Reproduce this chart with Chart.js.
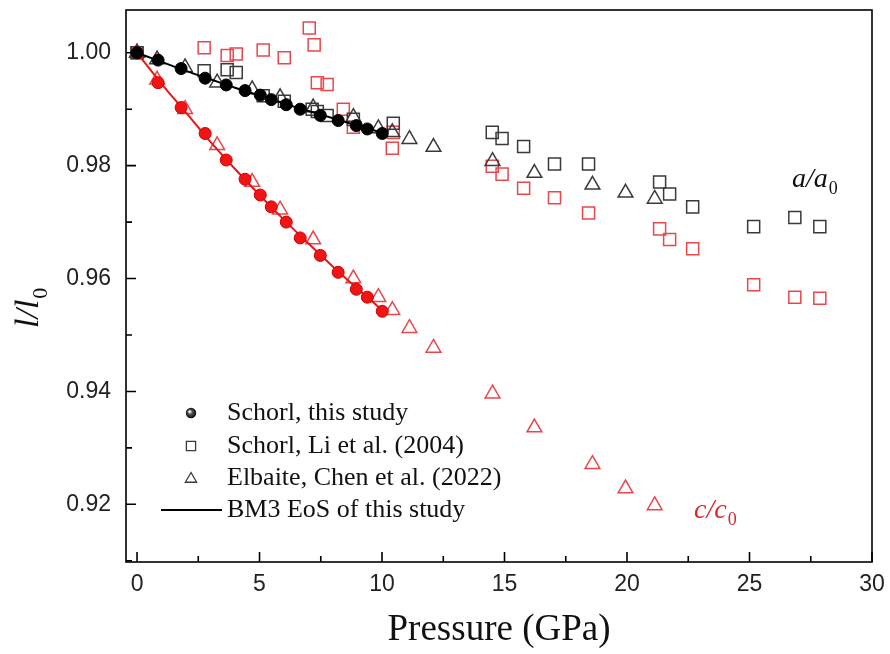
<!DOCTYPE html>
<html>
<head>
<meta charset="utf-8">
<script src="https://cdn.jsdelivr.net/npm/chart.js@4.4.1/dist/chart.umd.min.js"></script>
<style>
  html, body { margin: 0; padding: 0; background: #fff; }
</style>
</head>
<body>
<canvas id="chart" width="890" height="654"></canvas>
<script>
// Schorl, this study (pressure in GPa)
const pThis = [0, 0.86, 1.80, 2.78, 3.64, 4.41, 5.03, 5.48, 6.09, 6.66, 7.48, 8.21, 8.95, 9.40, 10.01]
const aThis = [1.0, 0.9987, 0.9972, 0.9955, 0.9943, 0.9933, 0.9925, 0.9917, 0.9908, 0.9900, 0.9889, 0.9880, 0.9871, 0.9865, 0.9857]
const cThis = [1.0, 0.9947, 0.9903, 0.9857, 0.9810, 0.9776, 0.9748, 0.9727, 0.9700, 0.9672, 0.9641, 0.9611, 0.9581, 0.9567, 0.9542]

// Schorl, Li et al. (2004)
const pLiA = [0, 2.74, 3.68, 4.05, 5.15, 6.01, 7.15, 7.36, 7.76, 8.83, 10.46,
  14.50, 14.90, 15.78, 17.04, 18.43, 21.33, 21.74, 22.68, 25.17, 26.85, 27.87]
const aLi = [1.0, 0.9968, 0.9970, 0.9965, 0.9924, 0.9914, 0.9900, 0.9896, 0.9889, 0.9882, 0.9875,
  0.9859, 0.9848, 0.9834, 0.9803, 0.9803, 0.9771, 0.9750, 0.9727, 0.9692, 0.9708, 0.9692]
const pLiC = [0, 2.74, 3.68, 4.05, 5.15, 6.01, 7.03, 7.23, 7.36, 7.76, 8.42, 8.83, 10.46, 10.42,
  14.50, 14.90, 15.78, 17.04, 18.43, 21.33, 21.74, 22.68, 25.17, 26.85, 27.87]
const cLi = [1.0, 1.0009, 0.9995, 0.9998, 1.0005, 0.9991, 1.0044, 1.0014, 0.9947, 0.9944, 0.9900, 0.9868, 0.9859, 0.9831,
  0.9799, 0.9785, 0.9760, 0.9743, 0.9716, 0.9688, 0.9669, 0.9653, 0.9589, 0.9567, 0.9565]

// Elbaite, Chen et al. (2022)
const pChen = [0, 0.82, 1.96, 3.27, 4.70, 5.84, 7.19, 8.83, 9.85, 10.42, 11.12, 12.10, 14.51, 16.22, 18.59, 19.94, 21.13]
const aChen = [1.0, 0.9988, 0.9974, 0.9947, 0.9935, 0.9921, 0.9903, 0.9886, 0.9866, 0.9859, 0.9847, 0.9833, 0.9808, 0.9787, 0.9766, 0.9752, 0.9741]
const cChen = [1.0, 0.9952, 0.9900, 0.9836, 0.9771, 0.9722, 0.9669, 0.9600, 0.9567, 0.9544, 0.9512, 0.9477, 0.9396, 0.9336, 0.9271, 0.9228, 0.9198]

// BM3 EoS fit of this study
const pFit = [0, 1, 2, 3, 4, 5, 6, 7, 8, 9, 10.2]
const aFit = [1.0, 0.9984, 0.9968, 0.9953, 0.9938, 0.9924, 0.9910, 0.9897, 0.9884, 0.9871, 0.9856]
const cFit = [1.0, 0.9945, 0.9894, 0.9842, 0.9794, 0.9748, 0.9704, 0.9662, 0.9621, 0.9582, 0.9537]

const xMin = -0.45, xMax = 30, yMin = 0.90978, yMax = 1.00758
const minorX = [2.5, 7.5, 12.5, 17.5, 22.5, 27.5]
const minorY = [0.91, 0.93, 0.95, 0.97, 0.99]

const legendRows = [
  'Schorl, this study',
  'Schorl, Li et al. (2004)',
  'Elbaite, Chen et al. (2022)',
  'BM3 EoS of this study',
]

const RED = '#f01414'
const RED_OPEN = '#e8474c'
const GREY = '#3a3a3a'
const SERIF = '"Liberation Serif", "Times New Roman", serif'
const SANS = '"Liberation Sans", Arial, sans-serif'

const pts = (xs, ys) => xs.map((x, i) => ({ x: x, y: ys[i] }))

// frame, inward ticks, legend and the a/a0, c/c0, l/l0 labels
const decor = {
  id: 'decor',
  afterDraw(chart) {
    const { ctx, chartArea: ca, scales: { x, y } } = chart
    ctx.save()
    ctx.strokeStyle = '#000'
    ctx.lineWidth = 1.6
    ctx.strokeRect(ca.left, ca.top, ca.right - ca.left, ca.bottom - ca.top)

    ctx.beginPath()
    x.ticks.forEach((t) => {
      const px = x.getPixelForValue(t.value)
      ctx.moveTo(px, ca.bottom); ctx.lineTo(px, ca.bottom - 10)
    })
    minorX.forEach((v) => {
      const px = x.getPixelForValue(v)
      ctx.moveTo(px, ca.bottom); ctx.lineTo(px, ca.bottom - 6)
    })
    y.ticks.forEach((t) => {
      const py = y.getPixelForValue(t.value)
      ctx.moveTo(ca.left, py); ctx.lineTo(ca.left + 10, py)
    })
    minorY.forEach((v) => {
      const py = y.getPixelForValue(v)
      ctx.moveTo(ca.left, py); ctx.lineTo(ca.left + 6, py)
    })
    ctx.stroke()

    // legend
    const lx = 191, tx = 227
    const rowY = [413, 446, 478, 510]
    // shaded sphere
    const g = ctx.createRadialGradient(lx - 1.5, rowY[0] - 1.5, 0.5, lx, rowY[0], 5.5)
    g.addColorStop(0, '#ffffff')
    g.addColorStop(0.35, '#555')
    g.addColorStop(1, '#000')
    ctx.fillStyle = g
    ctx.beginPath(); ctx.arc(lx, rowY[0], 5.2, 0, Math.PI * 2); ctx.fill()

    ctx.strokeStyle = GREY
    ctx.lineWidth = 1.3
    ctx.fillStyle = 'rgba(0,0,0,0)'
    Chart.helpers.drawPoint(ctx, { pointStyle: 'rect', radius: 6.5, borderWidth: 1.3, rotation: 0 }, lx, rowY[1])
    Chart.helpers.drawPoint(ctx, { pointStyle: 'triangle', radius: 6.5, borderWidth: 1.3, rotation: 0 }, lx, rowY[2] + 1)

    ctx.strokeStyle = '#000'
    ctx.lineWidth = 2
    ctx.beginPath(); ctx.moveTo(161, rowY[3]); ctx.lineTo(222, rowY[3]); ctx.stroke()

    ctx.fillStyle = '#111'
    ctx.font = '26px ' + SERIF
    ctx.textAlign = 'left'
    ctx.textBaseline = 'middle'
    legendRows.forEach((s, i) => ctx.fillText(s, tx, rowY[i]))

    // labels with subscripts
    const sub = (mainTxt, subTxt, px, py, size, color) => {
      ctx.fillStyle = color
      ctx.textBaseline = 'alphabetic'
      ctx.font = 'italic ' + size + 'px ' + SERIF
      ctx.fillText(mainTxt, px, py)
      const w = ctx.measureText(mainTxt).width
      ctx.font = Math.round(size * 0.65) + 'px ' + SERIF
      ctx.fillText(subTxt, px + w + 1, py + size * 0.25)
    }
    sub('a/a', '0', 792, 187, 28, '#111')
    sub('c/c', '0', 694, 518, 28, '#e0262c')

    ctx.translate(38, 328)
    ctx.rotate(-Math.PI / 2)
    sub('l/l', '0', 0, 0, 34, '#111')
    ctx.restore()
  }
}

const ctx = document.getElementById('chart').getContext('2d')

const chart = new Chart(ctx, {
  type: 'scatter',
  data: {
    datasets: [
      { label: 'Schorl, this study a', data: pts(pThis, aThis), pointStyle: 'circle', pointRadius: 6,
        backgroundColor: '#000', borderColor: '#000', borderWidth: 1 },
      { label: 'Schorl, this study c', data: pts(pThis, cThis), pointStyle: 'circle', pointRadius: 6,
        backgroundColor: RED, borderColor: '#d00000', borderWidth: 1 },
      { label: 'BM3 a', data: pts(pFit, aFit), showLine: true, pointRadius: 0, borderColor: '#000',
        borderWidth: 2, cubicInterpolationMode: 'monotone' },
      { label: 'BM3 c', data: pts(pFit, cFit), showLine: true, pointRadius: 0, borderColor: RED,
        borderWidth: 2, cubicInterpolationMode: 'monotone' },
      { label: 'Chen a', data: pts(pChen, aChen), pointStyle: 'triangle', pointRadius: 8.5,
        backgroundColor: 'rgba(0,0,0,0)', borderColor: GREY, borderWidth: 1.5 },
      { label: 'Chen c', data: pts(pChen, cChen), pointStyle: 'triangle', pointRadius: 8.5,
        backgroundColor: 'rgba(0,0,0,0)', borderColor: RED_OPEN, borderWidth: 1.5 },
      { label: 'Li a', data: pts(pLiA, aLi), pointStyle: 'rect', pointRadius: 8.5,
        backgroundColor: 'rgba(0,0,0,0)', borderColor: GREY, borderWidth: 1.5 },
      { label: 'Li c', data: pts(pLiC, cLi), pointStyle: 'rect', pointRadius: 8.5,
        backgroundColor: 'rgba(0,0,0,0)', borderColor: RED_OPEN, borderWidth: 1.5 },
    ]
  },
  options: {
    responsive: false,
    animation: false,
    events: [],
    layout: { padding: { top: 7, right: 18, left: 0, bottom: 0 } },
    plugins: { legend: { display: false }, tooltip: { enabled: false } },
    scales: {
      x: {
        type: 'linear', min: xMin, max: xMax,
        grid: { display: false, drawTicks: false },
        border: { display: false },
        ticks: { stepSize: 5, includeBounds: false, padding: 9, color: '#222', font: { family: SANS, size: 23 } },
        title: { display: true, text: 'Pressure (GPa)', color: '#111', padding: { top: 0, bottom: 2 },
          font: { family: SERIF, size: 37 } },
        afterFit(s) { s.height = 92; s.paddingLeft = 0; s.paddingRight = 0 }
      },
      y: {
        type: 'linear', min: yMin, max: yMax,
        grid: { display: false, drawTicks: false },
        border: { display: false },
        ticks: { stepSize: 0.02, includeBounds: false, padding: 15, color: '#222',
          font: { family: SANS, size: 23 }, callback: (v) => v.toFixed(2) },
        afterFit(s) { s.width = 126; s.paddingTop = 0; s.paddingBottom = 0 }
      }
    }
  },
  plugins: [decor]
})
</script>
</body>
</html>
